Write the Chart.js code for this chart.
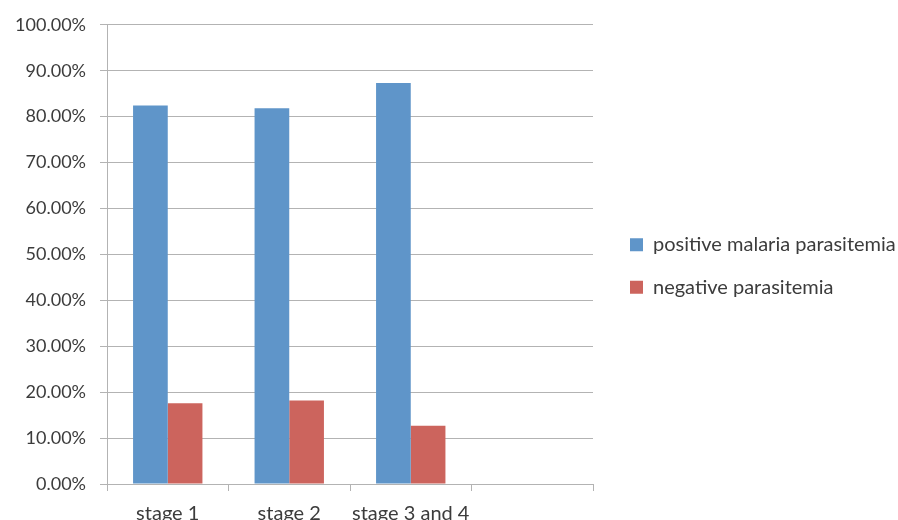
<!DOCTYPE html>
<html>
<head>
<meta charset="utf-8">
<script src="https://cdn.jsdelivr.net/npm/chart.js@4.4.0/dist/chart.umd.min.js"></script>
<style>
html,body{margin:0;padding:0;background:#fff;overflow:hidden;}
#wrap{width:898px;height:520px;}
</style>
</head>
<body>
<div id="wrap"><canvas id="c" width="898" height="520"></canvas></div>
<script>
const categories = ["stage 1", "stage 2", "stage 3 and 4", ""];
const positiveValues = [82.4, 81.8, 87.3, null];
const negativeValues = [17.6, 18.2, 12.7, null];
const seriesNames = ["positive malaria parasitemia", "negative parasitemia"];
const yTicks = [0, 10, 20, 30, 40, 50, 60, 70, 80, 90, 100];

const textColor = "#3c3c3c";
const gridColor = "#b3b3b3";

new Chart(document.getElementById("c"), {
  type: "bar",
  data: {
    labels: categories,
    datasets: [
      { label: seriesNames[0], data: positiveValues, backgroundColor: "#5f95c9", borderWidth: 0, yAxisID: "y" },
      { label: seriesNames[1], data: negativeValues, backgroundColor: "#cc645d", borderWidth: 0, yAxisID: "y" }
    ]
  },
  options: {
    responsive: false,
    animation: false,
    devicePixelRatio: 1,
    layout: { padding: { left: 0, top: 12, right: 0, bottom: 0 } },
    datasets: { bar: { categoryPercentage: 0.571, barPercentage: 1.0 } },
    plugins: {
      tooltip: { enabled: false },
      legend: {
        position: "right",
        maxWidth: 290.5,
        labels: {
          font: { family: "Lato", size: 20 },
          color: textColor,
          boxWidth: 13,
          boxHeight: 13,
          padding: 22.5
        }
      }
    },
    scales: {
      x: {
        offset: true,
        grid: { drawOnChartArea: false, color: gridColor, tickLength: 7, offset: true },
        border: { color: gridColor },
        ticks: { font: { family: "Lato", size: 20 }, color: textColor, padding: 11, maxRotation: 0 },
        afterFit: (s) => { s.height = 36; }
      },
      y: {
        min: 0,
        max: 100,
        afterBuildTicks: (axis) => { axis.ticks = yTicks.map(v => ({ value: v })); },
        grid: { color: gridColor, tickLength: 7 },
        border: { color: gridColor },
        ticks: {
          font: { family: "Lato", size: 18 },
          color: textColor,
          padding: 14,
          callback: (v) => v.toFixed(2) + "%"
        },
        afterFit: (s) => { s.width = 107; }
      },
      gap: {
        type: "linear",
        position: "right",
        display: true,
        grid: { display: false },
        border: { display: false },
        ticks: { display: false },
        afterFit: (s) => { s.width = 14.5; }
      }
    }
  }
});
</script>
</body>
</html>
